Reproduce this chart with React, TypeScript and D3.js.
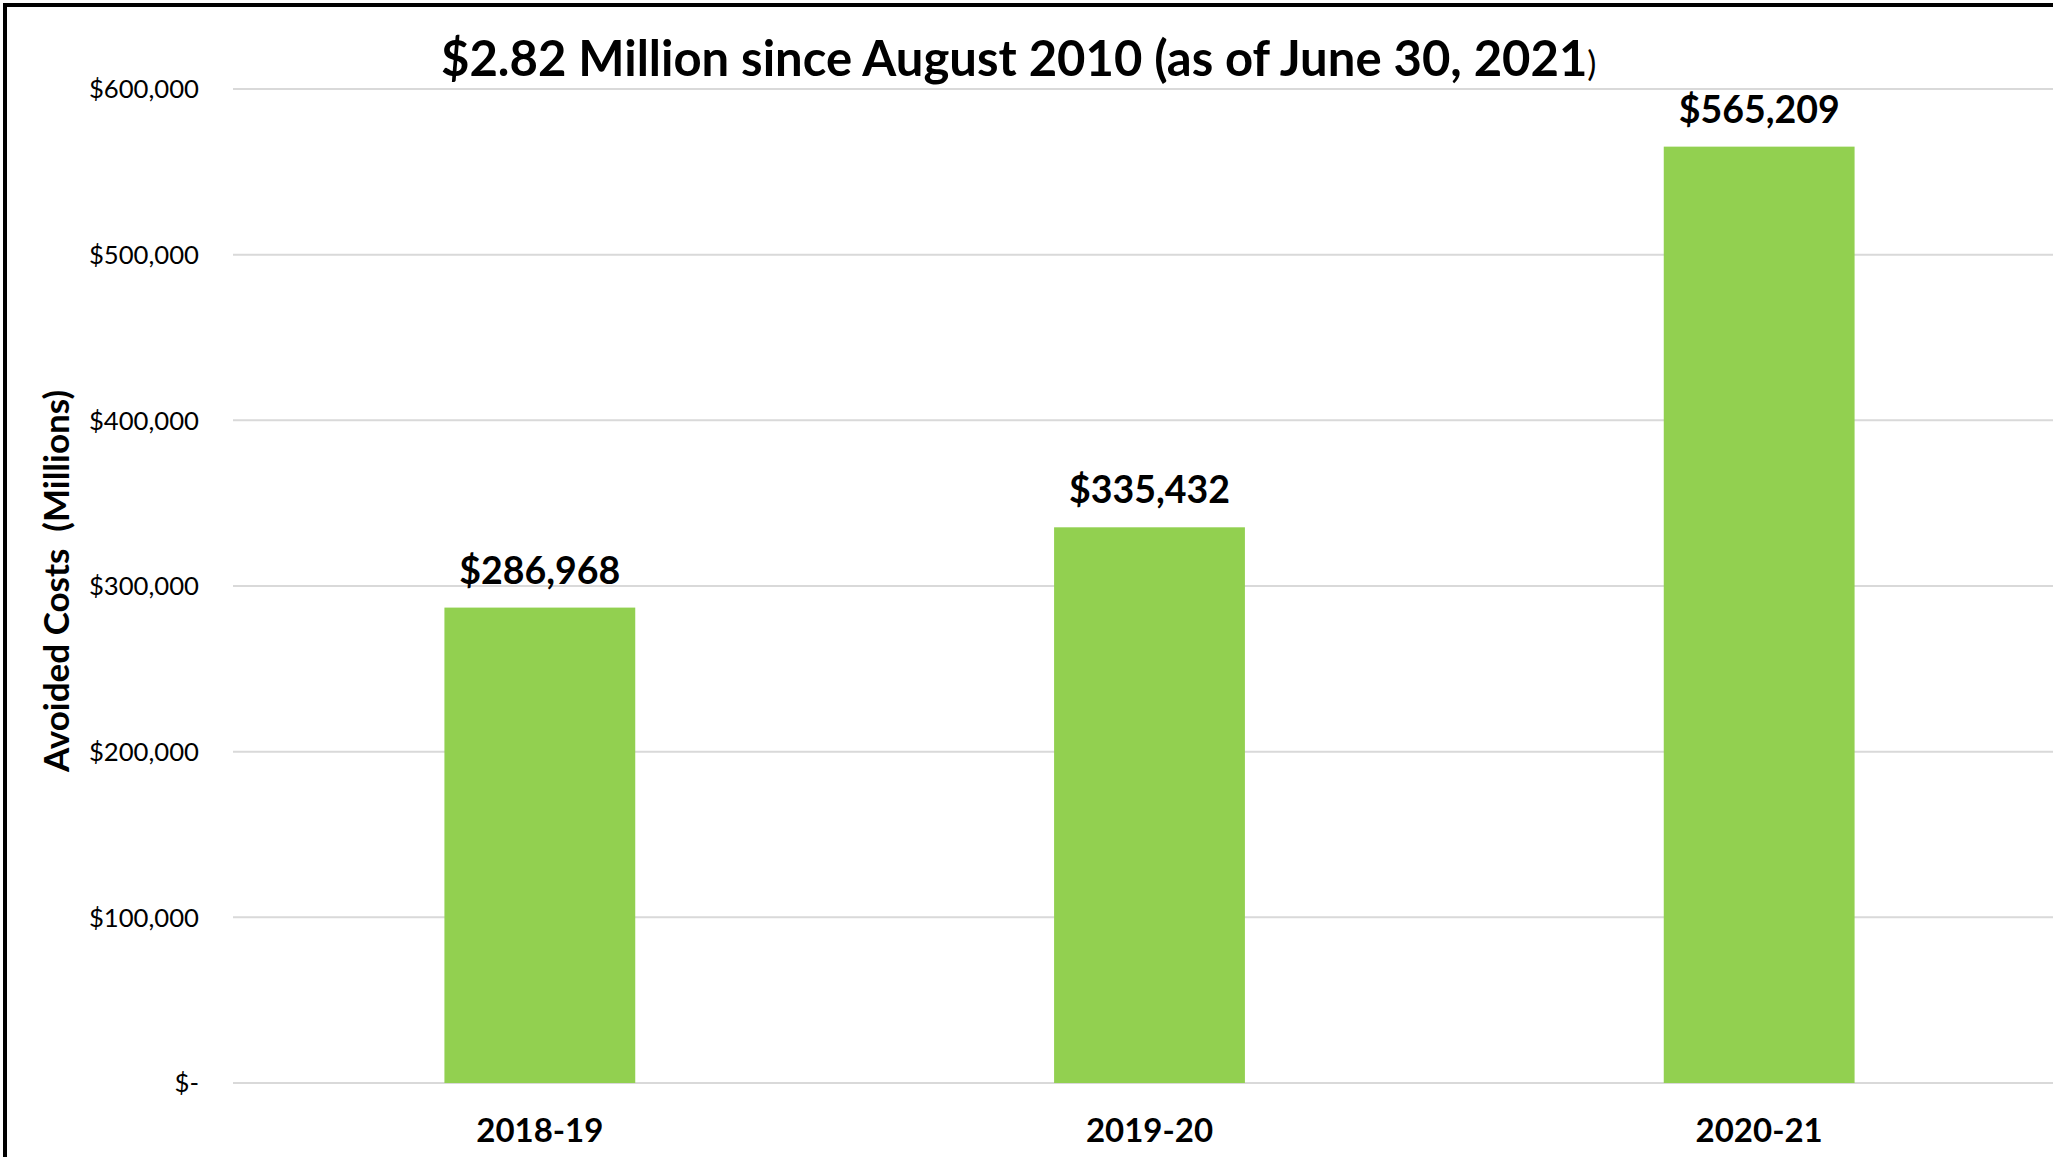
import React from "react";
import * as d3 from "d3";

const categories = ["2018-19", "2019-20", "2020-21"];
const values = [286968, 335432, 565209];
const yTicks = [0, 100000, 200000, 300000, 400000, 500000, 600000];
const titleMain = "$2.82 Million since August 2010 (as of June 30, 2021";
const titleTail = ")";
const yAxisTitle = "Avoided Costs  (Millions)";

const W = 2053;
const H = 1157;
const FONT = "Lato, 'Open Sans', sans-serif";

export default function App() {
  const x = d3
    .scaleBand<string>()
    .domain(categories)
    .range([235, 2064])
    .paddingInner(0.687)
    .paddingOuter(0.3435);
  const y = d3.scaleLinear().domain([0, 600000]).range([1083, 89]);
  const fmt = d3.format(",");
  const tickLabel = (v: number) => (v === 0 ? "$-" : "$" + fmt(v));

  return (
    <svg
      width={W}
      height={H}
      style={{ position: "absolute", left: 0, top: 0, display: "block", background: "#fff" }}
    >
      <rect x={0} y={0} width={W} height={H} fill="#fff" />
      {/* gridlines */}
      {yTicks.map((t) => (
        <line
          key={"g" + t}
          x1={233}
          x2={W}
          y1={y(t)}
          y2={y(t)}
          stroke="#d9d9d9"
          strokeWidth={2}
        />
      ))}
      {/* y tick labels */}
      {yTicks.map((t) => (
        <text
          key={"t" + t}
          x={199}
          y={y(t)}
          dy="0.36em"
          textAnchor="end"
          fontFamily={FONT}
          fontSize={25.7}
          fill="#000"
        >
          {tickLabel(t)}
        </text>
      ))}
      {/* bars */}
      {categories.map((c, i) => (
        <rect
          key={"b" + c}
          x={x(c)}
          y={y(values[i])}
          width={x.bandwidth()}
          height={y(0) - y(values[i])}
          fill="#92D050"
        />
      ))}
      {/* value labels */}
      {categories.map((c, i) => (
        <text
          key={"v" + c}
          x={(x(c) as number) + x.bandwidth() / 2}
          y={y(values[i]) - 24}
          textAnchor="middle"
          fontFamily={FONT}
          fontWeight={700}
          fontSize={37.5}
          fill="#000"
        >
          {"$" + fmt(values[i])}
        </text>
      ))}
      {/* x labels */}
      {categories.map((c) => (
        <text
          key={"x" + c}
          x={(x(c) as number) + x.bandwidth() / 2}
          y={1142}
          textAnchor="middle"
          fontFamily={FONT}
          fontWeight={700}
          fontSize={33}
          fill="#000"
        >
          {c}
        </text>
      ))}
      {/* y axis title */}
      <text
        transform={`translate(69,581) rotate(-90)`}
        textAnchor="middle"
        fontFamily={FONT}
        fontWeight={700}
        fontSize={35}
        fill="#000"
        style={{ whiteSpace: "pre" }}
      >
        {yAxisTitle}
      </text>
      {/* title */}
      <text x={441} y={76} fontFamily={FONT} fill="#000" style={{ whiteSpace: "pre" }}>
        <tspan fontWeight={700} fontSize={49}>
          {titleMain}
        </tspan>
        <tspan fontWeight={400} fontSize={34}>
          {titleTail}
        </tspan>
      </text>
      {/* frame */}
      <rect x={5} y={5} width={W + 20} height={H + 20} fill="none" stroke="#000" strokeWidth={4} />
    </svg>
  );
}
